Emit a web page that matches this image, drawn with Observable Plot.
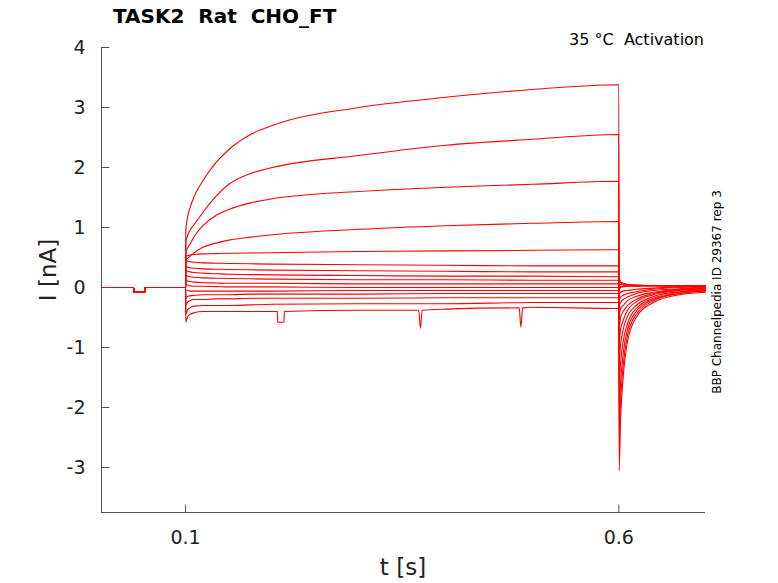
<!DOCTYPE html>
<html><head><meta charset="utf-8">
<script src="https://cdn.jsdelivr.net/npm/d3@7"></script>
<script src="https://cdn.jsdelivr.net/npm/@observablehq/plot@0.6"></script>
<style>
body{margin:0;background:#fff;font-family:"DejaVu Sans",sans-serif;}
#wrap{position:relative;width:778px;height:583px;}
.t{position:absolute;white-space:pre;color:#000;}
</style></head><body>
<div id="wrap"></div>
<script>
const baseTimes = [0.003, 0.04, 0.0405, 0.053, 0.0535, 0.0995];
const baseVals  = [0.0, 0.0, -0.08, -0.08, 0.0, 0.0];
const stepTimes = [0.1003,0.102,0.105,0.11,0.12,0.135,0.15,0.175,0.2,0.3,0.4,0.5,0.5995];
const stepVals = [
 [0.95,1.15,1.32,1.52,1.78,2.08,2.3,2.55,2.7,3.0,3.17,3.3,3.38],
 [0.75,0.85,0.95,1.05,1.25,1.52,1.72,1.9,2.0,2.2,2.37,2.47,2.55],
 [0.6,0.65,0.72,0.85,1.03,1.2,1.3,1.41,1.48,1.6,1.67,1.72,1.77],
 [0.45,0.48,0.52,0.58,0.67,0.74,0.79,0.84,0.88,0.97,1.03,1.07,1.1],
 [0.52,0.53,0.54,0.55,0.56,0.565,0.57,0.575,0.58,0.6,0.61,0.62,0.63],
 [0.45,0.44,0.43,0.42,0.41,0.405,0.4,0.395,0.39,0.38,0.37,0.36,0.36],
 [0.35,0.34,0.33,0.32,0.31,0.305,0.3,0.295,0.29,0.28,0.27,0.26,0.26],
 [0.28,0.27,0.26,0.25,0.24,0.23,0.22,0.215,0.21,0.2,0.19,0.19,0.18],
 [0.2,0.19,0.18,0.17,0.16,0.155,0.15,0.145,0.14,0.13,0.13,0.12,0.12],
 [0.12,0.11,0.1,0.09,0.08,0.075,0.07,0.07,0.07,0.06,0.06,0.06,0.06],
 [0.05,0.04,0.03,0.02,0.02,0.015,0.01,0.01,0.01,0.0,0.0,0.0,0.0],
 [-0.05,-0.05,-0.06,-0.06,-0.06,-0.06,-0.06,-0.06,-0.06,-0.05,-0.05,-0.05,-0.05],
 [-0.18,-0.15,-0.14,-0.13,-0.12,-0.12,-0.12,-0.11,-0.11,-0.11,-0.1,-0.1,-0.1],
 [-0.3,-0.25,-0.22,-0.2,-0.2,-0.19,-0.19,-0.18,-0.18,-0.18,-0.17,-0.17,-0.17],
 [-0.45,-0.38,-0.34,-0.31,-0.3,-0.3,-0.3,-0.29,-0.28,-0.27,-0.27,-0.25,-0.25],
 [-0.58,-0.5,-0.45,-0.42,-0.4,-0.4,-0.4,-0.4,-0.4,-0.38,-0.36,-0.33,-0.35]
];
const spikeTimes = [0.206,0.2065,0.2135,0.214,0.369,0.371,0.373,0.485,0.487,0.489];
const spikeVals  = [-0.4,-0.58,-0.58,-0.4,-0.38,-0.68,-0.38,-0.34,-0.66,-0.34];
const tailTimes = [0.6003,0.602,0.605,0.61,0.62,0.64,0.67,0.7];
const tailVals = [
 [-3.05,-2.2,-1.5,-0.9,-0.5,-0.25,-0.12,-0.08],
 [-2.6,-1.9,-1.3,-0.8,-0.45,-0.22,-0.1,-0.06],
 [-2.1,-1.6,-1.1,-0.7,-0.4,-0.2,-0.1,-0.05],
 [-1.6,-1.25,-0.9,-0.6,-0.35,-0.18,-0.08,-0.04],
 [-1.2,-0.95,-0.7,-0.48,-0.3,-0.15,-0.07,-0.03],
 [-0.9,-0.7,-0.55,-0.38,-0.24,-0.12,-0.05,-0.02],
 [-0.65,-0.5,-0.4,-0.3,-0.2,-0.1,-0.04,-0.01],
 [-0.45,-0.35,-0.3,-0.22,-0.15,-0.08,-0.03,0.0],
 [-0.3,-0.25,-0.2,-0.16,-0.1,-0.05,-0.02,0.01],
 [-0.2,-0.16,-0.13,-0.1,-0.07,-0.03,0.0,0.02],
 [-0.1,-0.08,-0.06,-0.05,-0.03,-0.01,0.01,0.02],
 [0.15,0.1,0.07,0.05,0.04,0.03,0.02,0.02],
 [0.1,0.08,0.06,0.05,0.04,0.03,0.03,0.03],
 [0.05,0.05,0.04,0.04,0.03,0.03,0.03,0.03],
 [0.0,0.02,0.02,0.03,0.03,0.03,0.03,0.03],
 [-0.05,0.0,0.01,0.02,0.02,0.03,0.03,0.03]
];
const xTicks = [0.1, 0.6];
const yTicks = [-3,-2,-1,0,1,2,3,4];
const xMin = 0.003, yMin = -3.75;

const rows = [];
stepVals.forEach((sv, i) => {
  const pts = [];
  baseTimes.forEach((t, j) => pts.push({t, v: baseVals[j]}));
  pts.push({t: 0.1, v: 0});
  stepTimes.forEach((t, j) => pts.push({t, v: sv[j]}));
  if (i === stepVals.length - 1) spikeTimes.forEach((t, j) => pts.push({t, v: spikeVals[j]}));
  pts.push({t: 0.6, v: sv[sv.length - 1]});
  tailTimes.forEach((t, j) => pts.push({t, v: tailVals[i][j]}));
  pts.sort((a, b) => a.t - b.t);
  pts.forEach(p => rows.push({...p, s: i}));
});

const chart = Plot.plot({
  width: 778, height: 583,
  marginLeft: 101, marginRight: 73, marginTop: 47, marginBottom: 71,
  style: {fontFamily: "DejaVu Sans", fontSize: "19px", background: "#fff", color: "#222"},
  x: {domain: [xMin, 0.7]},
  y: {domain: [yMin, 4]},
  marks: [
    Plot.axisY(yTicks, {tickSize: 0, tickPadding: 16, fontSize: 19, label: null, tickFormat: d => String(d)}),
    Plot.axisX(xTicks, {tickSize: 0, tickPadding: 18, fontSize: 19, label: null, tickFormat: d => String(d)}),
    Plot.link(yTicks, {x1: () => xMin, x2: () => xMin + 0.009, y1: d => d, y2: d => d, stroke: "#555"}),
    Plot.link(xTicks, {x1: d => d, x2: d => d, y1: () => yMin, y2: () => yMin + 0.13, stroke: "#555"}),
    Plot.ruleX([xMin], {stroke: "#555"}),
    Plot.ruleY([yMin], {stroke: "#555"}),
    Plot.line(rows, {x: "t", y: "v", z: "s", stroke: "#ff0000", strokeWidth: 1.1, curve: "monotone-x"})
  ]
});
const wrap = document.getElementById("wrap");
wrap.appendChild(chart);
const add = (txt, css) => { const d = document.createElement("div"); d.className = "t"; d.textContent = txt; d.style.cssText += css; wrap.appendChild(d); };
add("TASK2  Rat  CHO_FT", "left:113px;top:4px;font-size:20px;font-weight:bold;");
add("35 °C  Activation", "right:74px;top:30px;font-size:16px;");
add("I [nA]", "left:48px;top:270px;font-size:23px;color:#222;transform:translate(-50%,-50%) rotate(-90deg);");
add("t [s]", "left:403px;top:567px;font-size:23px;color:#222;transform:translate(-50%,-50%);");
add("BBP Channelpedia ID 29367 rep 3", "left:717px;top:292px;font-size:12px;transform:translate(-50%,-50%) rotate(-90deg);");
</script></body></html>
